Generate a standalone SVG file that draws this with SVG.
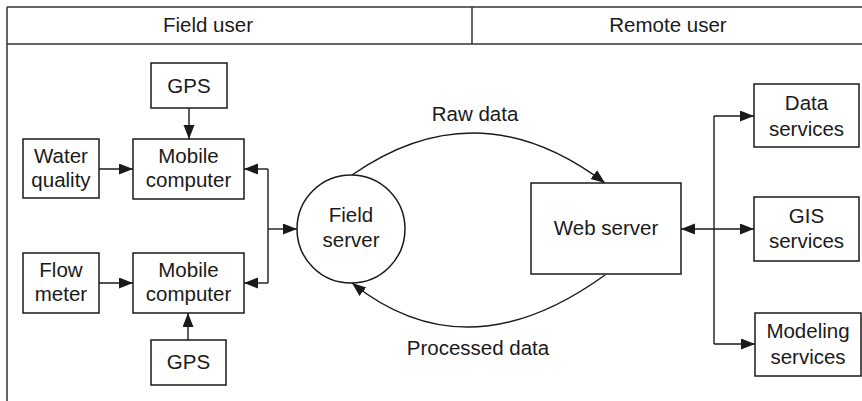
<svg xmlns="http://www.w3.org/2000/svg" width="862" height="401" viewBox="0 0 862 401">
<defs>
<marker id="ah" markerUnits="userSpaceOnUse" markerWidth="16" markerHeight="12" refX="14" refY="5.5" orient="auto">
<path d="M0,0 L14,5.5 L0,11 z" fill="#1a1a1a"/>
</marker>
<style>
text{font-family:"Liberation Sans",Arial,sans-serif;font-size:20.5px;fill:#1a1a1a;text-anchor:middle}
.box{fill:#fff;stroke:#1a1a1a;stroke-width:1.5}
.frame{stroke:#333;stroke-width:1.5;fill:none}
.c{fill:none;stroke:#1a1a1a;stroke-width:1.4}
.a{fill:none;stroke:#1a1a1a;stroke-width:1.4;marker-end:url(#ah)}
</style>
</defs>
<rect width="862" height="401" fill="#fff"/>
<g id="frame">
<line class="frame" x1="7" y1="7" x2="862" y2="7"/>
<line class="frame" x1="7" y1="44" x2="862" y2="44"/>
<line class="frame" x1="7" y1="7" x2="7" y2="401"/>
<line class="frame" x1="472" y1="7" x2="472" y2="44"/>
<text x="208" y="32">Field user</text>
<text x="668" y="32">Remote user</text>
</g>
<g id="connectors">
<line class="a" x1="189" y1="108" x2="189" y2="139"/>
<line class="a" x1="99" y1="169" x2="133" y2="169"/>
<line class="a" x1="99" y1="283" x2="133" y2="283"/>
<line class="a" x1="188" y1="340" x2="188" y2="313"/>
<polyline class="c" points="268,169 268,283"/>
<line class="a" x1="268" y1="169" x2="244" y2="169"/>
<line class="a" x1="268" y1="283" x2="244" y2="283"/>
<line class="a" x1="268" y1="229" x2="297" y2="229"/>
<path class="a" d="M352,175 Q478,87 605,183"/>
<path class="a" d="M605,275 Q467,375 352,283"/>
<line class="c" x1="714" y1="116" x2="714" y2="344"/>
<line class="a" x1="714" y1="229" x2="681" y2="229"/>
<line class="a" x1="714" y1="116" x2="754" y2="116"/>
<line class="a" x1="714" y1="229" x2="754" y2="229"/>
<line class="a" x1="714" y1="344" x2="755" y2="344"/>
<text x="475" y="121">Raw data</text>
<text x="478" y="355">Processed data</text>
</g>
<g id="gps1"><rect class="box" x="151" y="63" width="76" height="45"/><text x="189" y="93">GPS</text></g>
<g id="water"><rect class="box" x="23" y="139" width="76" height="59"/><text x="61" y="163">Water</text><text x="61" y="187">quality</text></g>
<g id="mobile1"><rect class="box" x="133" y="139" width="111" height="60"/><text x="188.5" y="163">Mobile</text><text x="188.5" y="187">computer</text></g>
<g id="flow"><rect class="box" x="23" y="253" width="76" height="60"/><text x="61" y="277">Flow</text><text x="61" y="301">meter</text></g>
<g id="mobile2"><rect class="box" x="133" y="253" width="111" height="60"/><text x="188.5" y="277">Mobile</text><text x="188.5" y="301">computer</text></g>
<g id="gps2"><rect class="box" x="151" y="340" width="75" height="45"/><text x="188.5" y="369">GPS</text></g>
<g id="fieldserver"><circle class="box" cx="351" cy="229" r="54"/><text x="351" y="222">Field</text><text x="351" y="247">server</text></g>
<g id="webserver"><rect class="box" x="531" y="183" width="150" height="91"/><text x="606" y="235">Web server</text></g>
<g id="data"><rect class="box" x="754" y="84" width="105" height="63"/><text x="806.5" y="110">Data</text><text x="806.5" y="136">services</text></g>
<g id="gis"><rect class="box" x="754" y="197" width="105" height="64"/><text x="806.5" y="223">GIS</text><text x="806.5" y="248">services</text></g>
<g id="modeling"><rect class="box" x="755" y="313" width="106" height="63"/><text x="808" y="338">Modeling</text><text x="808" y="364">services</text></g>
</svg>
